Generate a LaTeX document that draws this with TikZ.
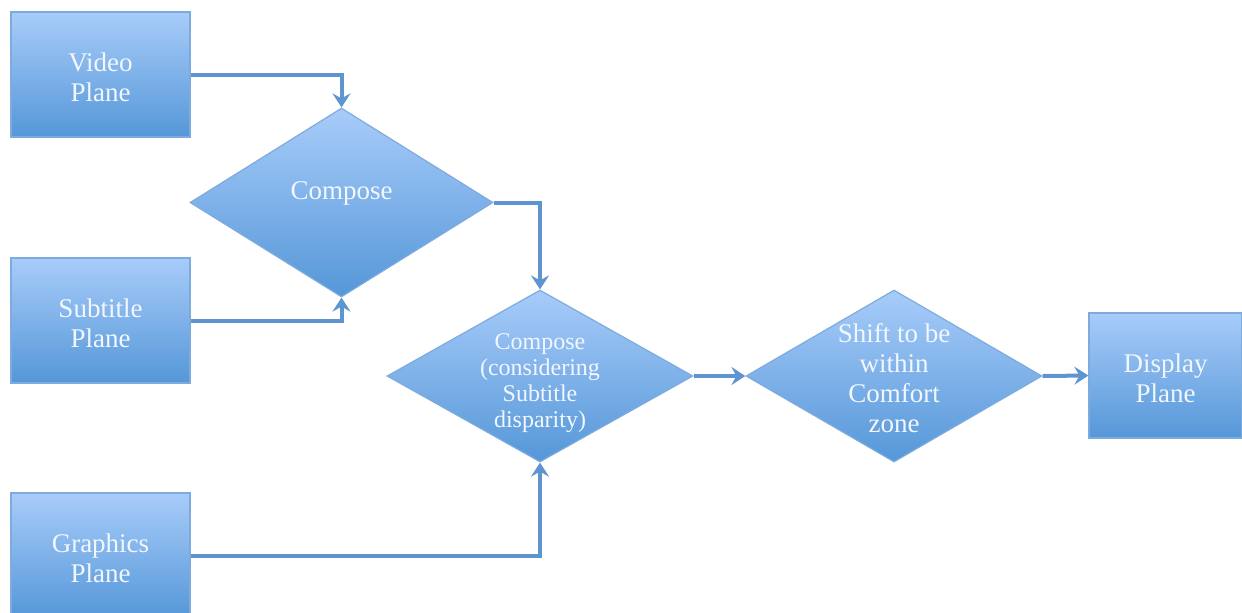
\documentclass[tikz,border=0pt]{standalone}
\usepackage{fontspec}
\setmainfont{Liberation Serif}
\usetikzlibrary{shapes.geometric,arrows.meta}
\definecolor{planetop}{HTML}{A8CCFA}
\definecolor{planebot}{HTML}{5597D8}
\definecolor{planeedge}{HTML}{7EABDD}
\definecolor{flowline}{HTML}{5E95D0}
\definecolor{planetext}{HTML}{F2F7FE}
\begin{document}
\begin{tikzpicture}[x=0.5pt,y=-0.5pt,
    plane/.style={rectangle, draw=planeedge, line width=0.6pt,
        top color=planetop, bottom color=planebot,
        minimum width=89.5pt, minimum height=62.5pt, inner sep=0pt},
    merge/.style={diamond, draw=planeedge, line width=0.6pt,
        top color=planetop, bottom color=planebot, inner sep=0pt},
    plane text/.style={text=planetext, align=center, font=\fontsize{13.5}{15}\selectfont},
    flow/.style={draw=flowline, line width=2pt,
        -{Stealth[length=7pt,width=9pt,inset=2.5pt]}}]
    \useasboundingbox (0,0) rectangle (1242,612);

    % Input planes
    \node[plane, label={[plane text, yshift=-1.5pt]center:Video\\Plane}] (video) at (100.5,74.5) {};
    \node[plane, label={[plane text, yshift=-1.5pt]center:Subtitle\\Plane}] (subtitle) at (100.5,320.5) {};
    \node[plane, label={[plane text, yshift=-1.5pt]center:Graphics\\Plane}] (graphics) at (100.5,555.5) {};

    % Compose steps
    \node[merge, minimum width=151.5pt, minimum height=94.5pt,
        label={[plane text, yshift=4.5pt]center:Compose}] (compose) at (341.5,202.5) {};
    \node[merge, minimum width=153pt, minimum height=86pt,
        label={[plane text, font=\fontsize{12}{13}\selectfont, yshift=-3.5pt]center:Compose\\(considering\\Subtitle\\disparity)}] (composesub) at (540,376) {};

    % Comfort zone shift
    \node[merge, minimum width=148pt, minimum height=86pt,
        label={[plane text, yshift=-1pt]center:Shift to be\\within\\Comfort\\zone}] (shift) at (894,376) {};

    % Output plane
    \node[plane, minimum width=76.5pt,
        label={[plane text, yshift=-1.5pt]center:Display\\Plane}] (display) at (1165.5,375.5) {};

    % Connectors
    \draw[flow] (video.east) -| (compose.north);
    \draw[flow] (subtitle.east) -| (compose.south);
    \draw[flow] (compose.east) -| (composesub.north);
    \draw[flow] (graphics.east) -| (composesub.south);
    \draw[flow] (composesub.east) -- (shift.west);
    \draw[flow] (shift.east) -- (display.west);
\end{tikzpicture}
\end{document}
